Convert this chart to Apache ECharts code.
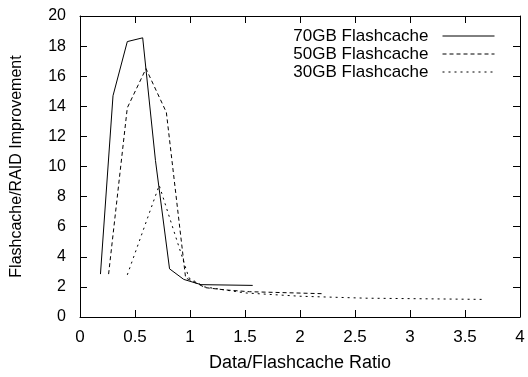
<!DOCTYPE html>
<html><head><meta charset="utf-8">
<script src="https://cdn.jsdelivr.net/npm/echarts@6/dist/echarts.min.js"></script>
<style>html,body{margin:0;padding:0;background:#fff}#c{width:528px;height:377px}</style>
</head><body><div id="c"></div>
<script>
var seriesNames = ["70GB Flashcache", "50GB Flashcache", "30GB Flashcache"];
var x70 = [0.186, 0.30, 0.43, 0.57, 0.686, 0.814, 0.943, 1.10, 1.57];
var y70 = [2.85, 14.7, 18.3, 18.55, 10.4, 3.2, 2.5, 2.15, 2.1];
var x50 = [0.26, 0.43, 0.60, 0.785, 0.96, 1.14, 1.32, 1.54, 2.2];
var y50 = [2.85, 13.9, 16.5, 13.6, 2.6, 1.95, 1.8, 1.68, 1.55];
var x30 = [0.43, 0.72, 0.99, 1.13, 1.5, 2.0, 2.6, 3.66];
var y30 = [2.8, 8.75, 2.6, 2.0, 1.6, 1.38, 1.25, 1.17];
var xTicks = [0, 0.5, 1, 1.5, 2, 2.5, 3, 3.5, 4];
var yTicks = [0, 2, 4, 6, 8, 10, 12, 14, 16, 18, 20];

function pairs(xs, ys){ return xs.map(function(x,i){ return [x, ys[i]]; }); }
var FONT = "Liberation Sans";
var dashes = ["solid", [4, 3], [2, 4]];
var dataSets = [pairs(x70,y70), pairs(x50,y50), pairs(x30,y30)];

var chart = echarts.init(document.getElementById('c'), null, {renderer:'canvas'});
var axisCommon = {
  axisLine:{show:true, onZero:false, lineStyle:{color:'#000', width:1}},
  axisTick:{show:true, inside:true, length:7, lineStyle:{color:'#000'}},
  splitLine:{show:false}
};
chart.setOption({
  animation:false,
  backgroundColor:'#fff',
  grid:{left:80, right:8, top:16, bottom:54, containLabel:false},
  legend:{
    orient:'vertical', right:28, top:22, align:'right', itemGap:0,
    itemWidth:52, itemHeight:18,
    itemStyle:{opacity:0},
    lineStyle:{width:1},
    textStyle:{fontFamily:FONT, fontSize:17, color:'#000', lineHeight:18, padding:[0,9,0,0]},
    data:seriesNames
  },
  xAxis:[
    Object.assign({type:'value', min:0, max:4, interval:0.5, position:'bottom',
      name:'Data/Flashcache Ratio', nameLocation:'middle', nameGap:37,
      nameTextStyle:{fontFamily:FONT, fontSize:18, color:'#000'},
      axisLabel:{fontFamily:FONT, fontSize:17, color:'#000', margin:12,
        formatter:function(v){ return xTicks.indexOf(v)>=0 ? String(v) : ''; }}}, axisCommon),
    Object.assign({type:'value', min:0, max:4, interval:0.5, position:'top',
      axisLabel:{show:false}}, axisCommon)
  ],
  yAxis:[
    Object.assign({type:'value', min:0, max:20, interval:2, position:'left',
      name:'Flashcache/RAID Improvement', nameLocation:'middle', nameGap:55,
      nameTextStyle:{fontFamily:FONT, fontSize:16, color:'#000'},
      axisLabel:{fontFamily:FONT, fontSize:16, color:'#000', margin:14,
        formatter:function(v){ return yTicks.indexOf(v)>=0 ? String(v) : ''; }}}, axisCommon),
    Object.assign({type:'value', min:0, max:20, interval:2, position:'right',
      axisLabel:{show:false}}, axisCommon)
  ],
  series: seriesNames.map(function(n,i){
    return {name:n, type:'line', data:dataSets[i], symbol:'none', xAxisIndex:0, yAxisIndex:0,
      lineStyle:{color:'#000', width:1, type:dashes[i]}, itemStyle:{color:'#000'}};
  })
});
</script></body></html>
